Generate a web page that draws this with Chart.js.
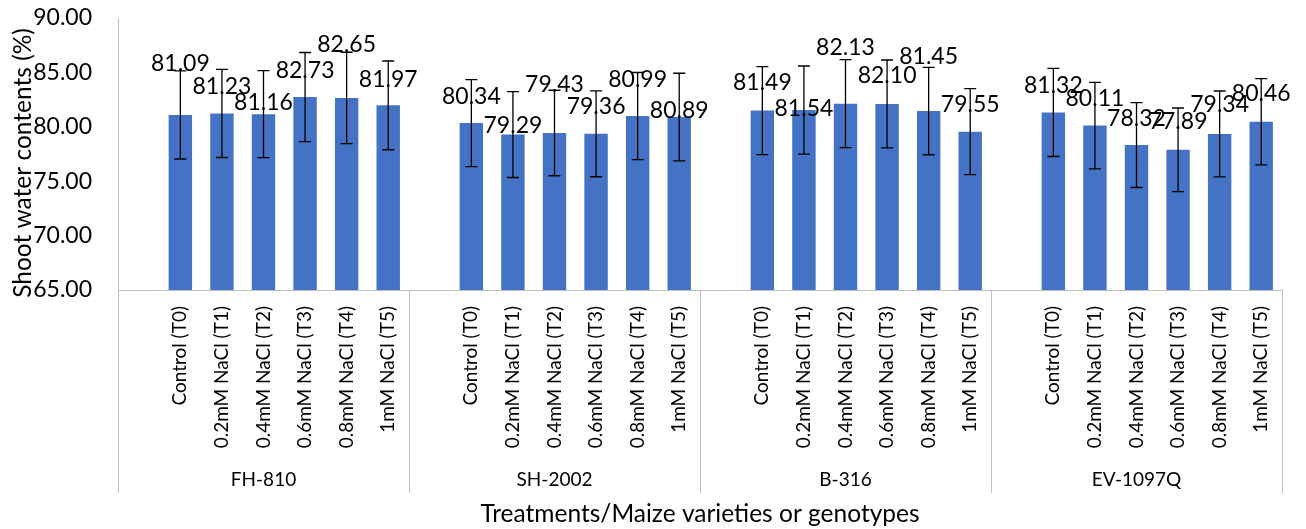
<!DOCTYPE html>
<html>
<head>
<meta charset="utf-8">
<script src="https://cdn.jsdelivr.net/npm/chart.js@4.4.1/dist/chart.umd.min.js"></script>
<style>
  body { margin: 0; background: #fff; }
  #wrap { width: 1306px; height: 529px; }
</style>
</head>
<body>
<div id="wrap"><canvas id="swcChart" width="1306" height="529"></canvas></div>
<script>
// varieties (outer axis) and treatments (inner axis)
const varieties = ['FH-810', 'SH-2002', 'B-316', 'EV-1097Q'];
const treatments = ['Control (T0)', '0.2mM NaCl (T1)', '0.4mM NaCl (T2)', '0.6mM NaCl (T3)', '0.8mM NaCl (T4)', '1mM NaCl (T5)'];

// shoot water contents (%) per variety
const fh810 = [81.09, 81.23, 81.16, 82.73, 82.65, 81.97];
const sh2002 = [80.34, 79.29, 79.43, 79.36, 80.99, 80.89];
const b316 = [81.49, 81.54, 82.13, 82.10, 81.45, 79.55];
const ev1097q = [81.32, 80.11, 78.32, 77.89, 79.34, 80.46];

// error bar sizes (+/-)
const fh810Err = [4.05, 4.05, 4.00, 4.10, 4.20, 4.08];
const sh2002Err = [4.00, 3.95, 3.93, 3.95, 4.00, 4.03];
const b316Err = [4.04, 4.05, 4.04, 4.04, 4.02, 3.95];
const ev1097qErr = [4.05, 3.98, 3.90, 3.84, 3.95, 3.96];

const yTicks = [65, 70, 75, 80, 85, 90];
const yTitle = 'Shoot water contents (%)';
const xTitle = 'Treatments/Maize varieties or genotypes';

// how far each data label sits above its bar (px), labels were hand-moved
const labelLift = [
  51, 27, 12, 27, 53, 26,
  27, 9, 48, 27, 36, 7,
  28, 1, 56, 28, 54, 27,
  27, 27, 27, 28, 29, 28
];

const groupValues = [fh810, sh2002, b316, ev1097q];
const groupErrors = [fh810Err, sh2002Err, b316Err, ev1097qErr];

// each variety gets an empty slot first, like the excel sheet
const labels = [], values = [], errors = [], lifts = [];
let k = 0;
varieties.forEach((v, g) => {
  labels.push(''); values.push(null); errors.push(null); lifts.push(null);
  treatments.forEach((t, i) => {
    labels.push(t);
    values.push(groupValues[g][i]);
    errors.push(groupErrors[g][i]);
    lifts.push(labelLift[k++]);
  });
});
const slotsPerGroup = treatments.length + 1;

Chart.defaults.font.family = 'Lato, "Open Sans", sans-serif';
Chart.defaults.color = '#000';

const axisGrey = '#bfbfbf';

const extras = {
  id: 'extras',
  afterDatasetsDraw(chart) {
    const { ctx, scales: { y } } = chart;
    const meta = chart.getDatasetMeta(0);
    ctx.save();
    // error bars
    ctx.strokeStyle = '#000';
    ctx.lineWidth = 1.3;
    meta.data.forEach((bar, i) => {
      if (values[i] == null) return;
      const top = y.getPixelForValue(values[i] + errors[i]);
      const bot = y.getPixelForValue(values[i] - errors[i]);
      ctx.beginPath();
      ctx.moveTo(bar.x, top); ctx.lineTo(bar.x, bot);
      ctx.moveTo(bar.x - 6, top); ctx.lineTo(bar.x + 6, top);
      ctx.moveTo(bar.x - 6, bot); ctx.lineTo(bar.x + 6, bot);
      ctx.stroke();
    });
    // data labels
    ctx.fillStyle = '#000';
    ctx.font = '23px Lato';
    ctx.textAlign = 'center';
    ctx.textBaseline = 'middle';
    meta.data.forEach((bar, i) => {
      if (values[i] == null) return;
      ctx.fillText(values[i].toFixed(2), bar.x, bar.y - lifts[i]);
    });
    ctx.restore();
  },
  afterDraw(chart) {
    const { ctx, scales: { x, y } } = chart;
    const half = (x.getPixelForValue(1) - x.getPixelForValue(0)) / 2;
    const axisY = x.top;
    ctx.save();
    // group separators under the axis
    ctx.strokeStyle = axisGrey;
    ctx.lineWidth = 1;
    for (let g = 0; g <= varieties.length; g++) {
      const px = Math.round(x.getPixelForValue(g * slotsPerGroup) - half) + 0.5;
      ctx.beginPath();
      ctx.moveTo(px, axisY);
      ctx.lineTo(px, 493);
      ctx.stroke();
    }
    ctx.fillStyle = '#000';
    ctx.font = '19px Lato';
    ctx.textAlign = 'center';
    ctx.textBaseline = 'middle';
    varieties.forEach((v, g) => {
      const a = x.getPixelForValue(g * slotsPerGroup) - half;
      const b = x.getPixelForValue((g + 1) * slotsPerGroup - 1) + half;
      ctx.fillText(v, (a + b) / 2, 480);
    });
    // y title, sits a bit lower than the plot centre in the original
    ctx.font = '24.5px Lato';
    ctx.translate(23, (y.top + y.bottom) / 2 + 9);
    ctx.rotate(-Math.PI / 2);
    ctx.fillText(yTitle, 0, 0);
    ctx.restore();
  }
};

const ctx = document.getElementById('swcChart');
new Chart(ctx, {
  type: 'bar',
  data: {
    labels: labels,
    datasets: [{
      data: values,
      backgroundColor: '#4472C4',
      categoryPercentage: 1,
      barPercentage: 0.563
    }]
  },
  options: {
    responsive: false,
    animation: false,
    layout: { padding: { left: 8, top: 18, right: 24, bottom: 0 } },
    plugins: { legend: { display: false }, tooltip: { enabled: false } },
    scales: {
      x: {
        grid: { display: false, drawTicks: false },
        border: { display: true, color: axisGrey },
        ticks: { autoSkip: false, minRotation: 90, maxRotation: 90, padding: 16, font: { size: 19 } },
        title: { display: true, text: xTitle, font: { size: 24.5 }, padding: 0 },
        afterFit: s => { s.height = 239; s.paddingLeft = 0; s.paddingRight = 0; }
      },
      y: {
        min: yTicks[0],
        max: yTicks[yTicks.length - 1],
        grid: { display: false, drawTicks: false },
        border: { display: true, color: axisGrey },
        ticks: { stepSize: 5, padding: 26, font: { size: 23 }, callback: v => v.toFixed(2) },
        afterFit: s => { s.width = 110; s.paddingTop = 0; s.paddingBottom = 0; }
      }
    }
  },
  plugins: [extras]
});
</script>
</body>
</html>
